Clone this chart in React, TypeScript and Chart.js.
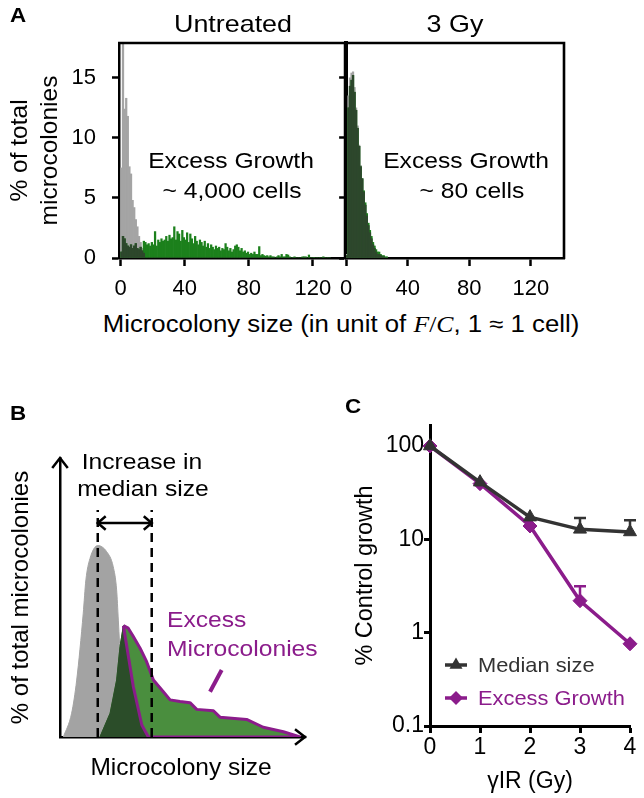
import React, { useEffect, useRef } from 'react';
import { Chart, registerables } from 'chart.js';

Chart.register(...registerables);

const FONT = "'Liberation Sans', Arial, Helvetica, sans-serif";
Chart.defaults.font.family = FONT;
Chart.defaults.color = '#000';

const GRAY_A = '#a4a4a4';
const GREEN_A = '#1c801c';
const DARK_A = '#2d472c';
const GRAY_B = '#a3a3a3';
const GREEN_B = '#4a8e3e';
const DARK_B = '#2b4d29';
const PURPLE = '#8b1c8b';
const INK = '#333333';
const STRETCH = 1.12;

// ---------------- Panel A: histograms (1-unit bins starting at 0) ----------------
const histXTicks = [0, 40, 80, 120];
const histYTicks = [0, 5, 10, 15];

const untreatedGray = [7.5, 18.5, 12.4, 13.3, 11.8, 7.6, 7.0, 4.8, 4.2, 3.2, 2.6, 1.8, 1.3, 0.8, 0.4];

const untreatedGreen = [
  0.5, 1.8, 1.6, 1.2, 1.0, 0.9, 1.1, 0.8, 1.0, 1.2,
  0.8, 0.7, 0.9, 0.6, 1.4, 1.3, 1.1, 1.2, 1.0, 1.3,
  1.1, 2.2, 1.0, 1.5, 1.3, 1.6, 1.4, 1.5, 1.8, 1.4,
  1.9, 1.6, 1.7, 2.6, 1.5, 2.2, 2.0, 1.4, 2.3, 1.7,
  1.5, 2.1, 1.3, 2.0, 1.6, 1.2, 1.8, 1.4, 1.1, 1.5,
  1.3, 1.0, 1.4, 0.9, 1.2, 0.8, 1.1, 0.9, 0.7, 1.0,
  0.8, 0.9, 0.6, 0.8, 0.7, 1.2, 0.9, 0.6, 0.8, 0.5,
  0.7, 1.0, 1.1, 0.9, 0.6, 0.8, 0.5, 0.6, 0.4, 0.5,
  0.3, 0.4, 0.3, 0.5, 0.3, 0.3, 0.95, 0.2, 0.3, 0.2,
  0.15, 0.2, 0.1, 0.2, 0.1, 0.1, 0, 0.1, 0.2, 0.1,
  0.3, 0.1, 0.1, 0.3, 0.25, 0.1, 0, 0.05, 0.1, 0,
  0, 0, 0, 0.1, 0.1, 0.1, 0, 0.25, 0, 0,
  0.05, 0, 0, 0, 0, 0, 0.1, 0, 0, 0, 0,
];

const gy3Gray = [0.3, 13.5, 15.0, 15.4, 15.5, 14.2, 12.5, 11.0, 9.4, 7.7, 6.6, 5.5, 4.4, 3.5, 2.7, 2.1, 1.6, 1.1, 0.8, 0.5, 0.3, 0.3, 0.2, 0.1, 0.1, 0, 0];
const gy3Green = [0.2, 12.5, 14.3, 14.8, 15.2, 13.8, 12.3, 10.8, 9.3, 7.6, 6.6, 5.6, 4.6, 3.7, 2.9, 2.3, 1.8, 1.3, 1.0, 0.7, 0.5, 0.5, 0.3, 0.2, 0.2, 0.1, 0.1];

// ---------------- Panel B: schematic distributions (arbitrary units 0-100) ----------------
const ctrlX = [1.4, 4.8, 6.9, 9.6, 10.7, 12.4, 15.6, 19.3, 22.0, 23.4, 24.1, 25.1, 25.9, 27.6, 30.3, 33.0];
const ctrlY = [0, 8.5, 20.4, 44.3, 56.3, 64.0, 68.6, 66.4, 61.0, 52.7, 41.9, 25.2, 13.3, 4.9, 0.7, 0];

const irrLeftX = [16.5, 20.7, 23.4, 24.8, 26.2];
const irrLeftY = [0, 8.5, 20.4, 32.4, 39.9];
const irrRightX = [28.2, 30.3, 33.1, 35.8, 38.6, 42.7, 45.5, 49.6, 53.7, 56.5, 63.4, 66.1, 77.1, 84.0, 92.3, 99.2];
const irrRightY = [39.0, 36.0, 31.8, 27.0, 20.4, 16.2, 13.3, 12.7, 12.3, 9.9, 9.4, 7.1, 6.3, 3.5, 1.9, 0];
const excessEdgeX = [26.2, 30.3, 33.8, 36.5];
const excessEdgeY = [39.9, 18.0, 4.3, 0];

const medianCtrl = 15.6;
const medianIrr = 37.9;
const medianLineTop = 81.4;
const shiftArrowY = 76.7;
const pointerX = [62.0, 66.8];
const pointerY = [16.2, 24.0];

// ---------------- Panel C: dose response ----------------
const doses = [0, 1, 2, 3, 4];
const medianSize = [100, 41, 17.3, 12.8, 12];
const medianErr = [0, 0, 0, 4.1, 4];
const excessGrowth = [100, 39.5, 13.9, 2.2, 0.76];
const excessErr = [0, 0, 0, 0.95, 0];
const logTicks = [0.1, 1, 10, 100];

// ---------------- helpers ----------------
const xy = (xs: number[], ys: number[]) => xs.map((x, i) => ({ x, y: ys[i] }));
const bins = (arr: number[]) => arr.map((v, i) => ({ x: i + 0.5, y: v }));

const base = {
  animation: false as const,
  responsive: false,
  devicePixelRatio: 1,
  events: [] as any[],
};

const framePlugin = {
  id: 'frame',
  afterDraw(chart: any, _a: any, opts: any) {
    if (!opts || !opts.width) return;
    const { ctx, chartArea: a } = chart;
    ctx.save();
    ctx.strokeStyle = '#000';
    ctx.lineWidth = opts.width;
    ctx.beginPath();
    ctx.moveTo(a.left - 1, a.top);
    ctx.lineTo(a.right, a.top);
    ctx.lineTo(a.right, a.bottom + 1);
    ctx.stroke();
    ctx.restore();
  },
};

function histConfig(gray: number[], green: number[], o: any) {
  const overlap = green.map((g, i) => Math.min(g, gray[i] ?? 0));
  const common = { barPercentage: 1, categoryPercentage: 1, borderWidth: 0, grouped: false };
  return {
    type: 'bar',
    data: {
      datasets: [
        { ...common, data: bins(overlap), backgroundColor: DARK_A, order: 0 },
        { ...common, data: bins(green), backgroundColor: GREEN_A, order: 1 },
        { ...common, data: bins(gray), backgroundColor: GRAY_A, order: 2 },
      ],
    },
    plugins: [framePlugin],
    options: {
      ...base,
      layout: { padding: { top: 43, right: o.padRight, left: 0, bottom: 0 } },
      plugins: { legend: { display: false }, tooltip: { enabled: false }, frame: { width: o.frame } },
      scales: {
        x: {
          type: 'linear',
          min: o.xMin,
          max: o.xMax,
          offset: false,
          afterBuildTicks: (s: any) => { s.ticks = histXTicks.map((v) => ({ value: v })); },
          afterFit: (s: any) => { s.height = 42; },
          grid: { display: true, offset: false, drawOnChartArea: false, drawTicks: true, tickLength: 8, tickWidth: 2.5, tickColor: '#000' },
          border: { display: true, color: '#000', width: 2.5 },
          ticks: { font: { size: 22 }, color: '#000', padding: 10, maxRotation: 0, autoSkip: false },
        },
        y: {
          type: 'linear',
          min: 0,
          max: 17.9,
          afterBuildTicks: (s: any) => { s.ticks = histYTicks.map((v) => ({ value: v })); },
          afterFit: (s: any) => { s.width = o.yWidth; },
          grid: { display: true, drawOnChartArea: false, drawTicks: true, tickLength: 7, tickWidth: 2.5, tickColor: '#000' },
          border: { display: true, color: '#000', width: o.yBorder },
          ticks: { display: o.yLabels, font: { size: 22 }, color: '#000', padding: 16 },
          title: o.yLabels
            ? { display: true, text: ['% of total', 'microcolonies'], font: { size: 24.5 }, color: '#000', padding: { top: 6, bottom: 0 } }
            : { display: false },
        },
      },
    },
  };
}

const makeUntreated = () =>
  histConfig(untreatedGray, untreatedGreen, { xMin: -1, xMax: 140, padRight: 5, yWidth: 119, yBorder: 2.5, yLabels: true, frame: 2.5 });
const makeGy3 = () =>
  histConfig(gy3Gray, gy3Green, { xMin: 0, xMax: 141.5, padRight: 66, yWidth: 16, yBorder: 4, yLabels: false, frame: 2.6 });

function chevron(ctx: any, x: number, y: number, dx: number, dy: number, len: number, half: number) {
  const bx = x - dx * len;
  const by = y - dy * len;
  const px = -dy;
  const py = dx;
  ctx.beginPath();
  ctx.moveTo(bx + px * half, by + py * half);
  ctx.lineTo(x, y);
  ctx.lineTo(bx - px * half, by - py * half);
  ctx.stroke();
}

const arrowsPlugin = {
  id: 'arrowsB',
  afterDatasetsDraw(chart: any) {
    const { ctx, chartArea: a } = chart;
    ctx.save();
    ctx.strokeStyle = '#000';
    ctx.lineWidth = 2.5;
    ctx.lineCap = 'square';
    ctx.lineJoin = 'miter';
    ctx.beginPath();
    ctx.moveTo(a.right, a.bottom);
    ctx.lineTo(a.right + 3, a.bottom);
    ctx.stroke();
    chevron(ctx, a.left, a.top, 0, -1, 9, 7);
    chevron(ctx, a.right + 3, a.bottom, 1, 0, 9, 7);
    chart.data.datasets.forEach((ds: any, i: number) => {
      if (!ds.arrowEnds) return;
      const pts = chart.getDatasetMeta(i).data;
      const p0 = pts[0];
      const p1 = pts[pts.length - 1];
      chevron(ctx, p0.x, p0.y, -1, 0, 7, 6);
      chevron(ctx, p1.x, p1.y, 1, 0, 7, 6);
    });
    ctx.restore();
  },
};

const makeSchematic = () => {
  const greenAll = xy([...irrLeftX, ...irrRightX], [...irrLeftY, ...irrRightY]);
  const dark = xy([...irrLeftX, ...excessEdgeX.slice(1)], [...irrLeftY, ...excessEdgeY.slice(1)]);
  const outline = xy(
    [...excessEdgeX, ...[...irrRightX].reverse(), irrLeftX[irrLeftX.length - 1]],
    [...excessEdgeY, ...[...irrRightY].reverse(), irrLeftY[irrLeftY.length - 1]]
  );
  const line = { pointRadius: 0, fill: false, tension: 0 };
  return {
    type: 'line',
    data: {
      datasets: [
        { ...line, data: xy(ctrlX, ctrlY), fill: 'origin', backgroundColor: GRAY_B, borderColor: GRAY_B, borderWidth: 1, cubicInterpolationMode: 'monotone', order: 7 },
        { ...line, data: greenAll, fill: 'origin', backgroundColor: GREEN_B, borderColor: GREEN_B, borderWidth: 1, order: 6 },
        { ...line, data: dark, fill: 'origin', backgroundColor: DARK_B, borderColor: DARK_B, borderWidth: 1, order: 5 },
        { ...line, data: xy([medianCtrl, medianCtrl], [0, medianLineTop]), borderColor: '#000', borderWidth: 2.5, borderDash: [9, 6], order: 3 },
        { ...line, data: xy([medianIrr, medianIrr], [0, medianLineTop]), borderColor: '#000', borderWidth: 2.5, borderDash: [9, 6], order: 3 },
        { ...line, data: outline, borderColor: PURPLE, borderWidth: 3, borderJoinStyle: 'round', order: 4 },
        { ...line, data: xy([medianCtrl, medianIrr], [shiftArrowY, shiftArrowY]), borderColor: '#000', borderWidth: 2.5, arrowEnds: true, order: 1 },
        { ...line, data: xy(pointerX, pointerY), borderColor: PURPLE, borderWidth: 4, order: 0 },
      ],
    },
    plugins: [arrowsPlugin],
    options: {
      ...base,
      layout: { padding: { top: 78, right: 28, left: 0, bottom: 0 } },
      plugins: { legend: { display: false }, tooltip: { enabled: false } },
      scales: {
        x: {
          type: 'linear', min: 0, max: 100,
          afterFit: (s: any) => { s.height = 61; },
          ticks: { display: false }, grid: { display: false },
          border: { display: true, color: '#000', width: 2.5 },
          title: { display: true, text: 'Microcolony size', font: { size: 24.5 }, color: '#000', padding: { top: 0, bottom: 15 } },
        },
        y: {
          type: 'linear', min: 0, max: 100,
          afterFit: (s: any) => { s.width = 60; },
          ticks: { display: false }, grid: { display: false },
          border: { display: true, color: '#000', width: 2.5 },
          title: { display: true, text: '% of total microcolonies', font: { size: 24 }, color: '#000', padding: { top: 7, bottom: 0 } },
        },
      },
    },
  };
};

const errorBarsPlugin = {
  id: 'errorBars',
  afterDatasetsDraw(chart: any) {
    const { ctx } = chart;
    const y = chart.scales.y;
    chart.data.datasets.forEach((ds: any, i: number) => {
      const err = ds.errPlus;
      if (!err) return;
      const meta = chart.getDatasetMeta(i);
      ctx.save();
      ctx.strokeStyle = ds.borderColor;
      ctx.lineWidth = 2.5;
      meta.data.forEach((pt: any, j: number) => {
        if (!err[j]) return;
        const top = y.getPixelForValue(ds.data[j].y + err[j]);
        ctx.beginPath();
        ctx.moveTo(pt.x, pt.y);
        ctx.lineTo(pt.x, top);
        ctx.moveTo(pt.x - 6, top);
        ctx.lineTo(pt.x + 6, top);
        ctx.stroke();
      });
      ctx.restore();
    });
  },
};

const legendPlugin = {
  id: 'legendC',
  afterDraw(chart: any) {
    const { ctx, chartArea: a } = chart;
    chart.data.datasets.forEach((ds: any, i: number) => {
      ctx.save();
      const y = a.bottom - 61 + i * 33;
      const x0 = a.left + 15;
      const x1 = a.left + 37;
      const cx = (x0 + x1) / 2;
      ctx.strokeStyle = ds.borderColor;
      ctx.fillStyle = ds.borderColor;
      ctx.lineWidth = 3.5;
      ctx.beginPath();
      ctx.moveTo(x0, y);
      ctx.lineTo(x1, y);
      ctx.stroke();
      const r = ds.pointRadius;
      ctx.beginPath();
      if (ds.pointStyle === 'triangle') {
        for (let k = 0; k < 3; k++) {
          const ang = -Math.PI / 2 + (k * 2 * Math.PI) / 3;
          const px = cx + Math.cos(ang) * r;
          const py = y + Math.sin(ang) * r;
          if (k === 0) ctx.moveTo(px, py); else ctx.lineTo(px, py);
        }
      } else {
        ctx.moveTo(cx - r, y);
        ctx.lineTo(cx, y - r);
        ctx.lineTo(cx + r, y);
        ctx.lineTo(cx, y + r);
      }
      ctx.closePath();
      ctx.fill();
      ctx.font = `21px ${FONT}`;
      ctx.textBaseline = 'middle';
      ctx.textAlign = 'left';
      ctx.translate(a.left + 48, y + 1);
      ctx.scale(1.04, 1);
      ctx.fillText(ds.label, 0, 0);
      ctx.restore();
    });
  },
};

const makeDose = () => ({
  type: 'line',
  data: {
    datasets: [
      { label: 'Median size', data: xy(doses, medianSize), errPlus: medianErr, borderColor: INK, backgroundColor: INK, borderWidth: 3.5, pointStyle: 'triangle', pointRadius: 7.5, pointBorderWidth: 1, clip: false, tension: 0 },
      { label: 'Excess Growth', data: xy(doses, excessGrowth), errPlus: excessErr, borderColor: PURPLE, backgroundColor: PURPLE, borderWidth: 3.5, pointStyle: 'rectRot', pointRadius: 7, pointBorderWidth: 1, clip: false, tension: 0 },
    ],
  },
  plugins: [errorBarsPlugin, legendPlugin],
  options: {
    ...base,
    layout: { padding: { top: 45, right: 14, left: 0, bottom: 0 } },
    plugins: { legend: { display: false }, tooltip: { enabled: false } },
    scales: {
      x: {
        type: 'linear', min: 0, max: 4,
        afterBuildTicks: (s: any) => { s.ticks = doses.map((v) => ({ value: v })); },
        afterFit: (s: any) => { s.height = 72; },
        grid: { display: true, drawOnChartArea: false, drawTicks: true, tickLength: 7, tickWidth: 3, tickColor: '#000' },
        border: { display: true, color: '#000', width: 3 },
        ticks: { font: { size: 23 }, color: '#000', padding: 1, maxRotation: 0, autoSkip: false },
        title: { display: true, text: 'γIR (Gy)', font: { size: 23 }, color: '#000', padding: { top: 0, bottom: 3 } },
      },
      y: {
        type: 'logarithmic', min: 0.1, max: 168,
        afterBuildTicks: (s: any) => { s.ticks = logTicks.map((v) => ({ value: v })); },
        afterFit: (s: any) => { s.width = 100; },
        grid: { display: true, drawOnChartArea: false, drawTicks: true, tickLength: 6, tickWidth: 3, tickColor: '#000' },
        border: { display: true, color: '#000', width: 3 },
        ticks: { font: { size: 23 }, color: '#000', padding: 0, callback: (v: any) => String(v) },
        title: { display: true, text: '% Control growth', font: { size: 23.5 }, color: '#000', padding: { top: 21, bottom: 0 } },
      },
    },
  },
});

function ChartBox({ make, left, top, width, height }: any) {
  const ref = useRef<HTMLCanvasElement>(null);
  useEffect(() => {
    const chart = new Chart(ref.current as HTMLCanvasElement, make());
    return () => chart.destroy();
  }, []);
  return <canvas ref={ref} width={width} height={height} style={{ position: 'absolute', left, top, width, height }} />;
}

function Txt({ x, base: b, size, anchor = 'middle', bold = false, color = '#000', children }: any) {
  const style: any = {
    position: 'absolute',
    top: b - 0.847 * size,
    left: x,
    fontSize: size,
    lineHeight: `${size}px`,
    whiteSpace: 'nowrap',
    fontWeight: bold ? 'bold' : 'normal',
    color,
    fontFamily: FONT,
  };
  if (anchor === 'middle') {
    style.transform = `translateX(-50%) scaleX(${STRETCH})`;
  } else {
    style.transformOrigin = 'left center';
    style.transform = `scaleX(${STRETCH})`;
  }
  return <div style={style}>{children}</div>;
}

const serifItalic: any = { fontFamily: "'Liberation Serif', 'DejaVu Serif', serif", fontStyle: 'italic' };

export default function App() {
  return (
    <div style={{ position: 'absolute', left: 0, top: 0, width: 644, height: 798, background: '#fff', overflow: 'hidden' }}>
      <ChartBox make={makeUntreated} left={0} top={0} width={350} height={300} />
      <ChartBox make={makeGy3} left={330} top={0} width={300} height={300} />
      <ChartBox make={makeSchematic} left={0} top={380} width={330} height={418} />
      <ChartBox make={makeDose} left={330} top={380} width={314} height={418} />

      <Txt x={10} base={22} size={20} anchor="start" bold>A</Txt>
      <Txt x={233} base={32} size={24}>Untreated</Txt>
      <Txt x={455} base={32} size={24}>3 Gy</Txt>
      <Txt x={231} base={169} size={22}>Excess Growth</Txt>
      <Txt x={232} base={199} size={22}>~ 4,000 cells</Txt>
      <Txt x={466} base={169} size={22}>Excess Growth</Txt>
      <Txt x={472} base={199} size={22}>~ 80 cells</Txt>
      <Txt x={341} base={332} size={23}>
        Microcolony size (in unit of <span style={serifItalic}>F</span>
        <span style={{ fontFamily: "'Liberation Serif', serif" }}>/</span>
        <span style={serifItalic}>C</span>, 1 ≈ 1 cell)
      </Txt>

      <Txt x={10} base={420} size={20} anchor="start" bold>B</Txt>
      <Txt x={142} base={470} size={22}>Increase in</Txt>
      <Txt x={143} base={497} size={22}>median size</Txt>
      <Txt x={167} base={628} size={22} anchor="start" color={PURPLE}>Excess</Txt>
      <Txt x={167} base={657} size={22} anchor="start" color={PURPLE}>Microcolonies</Txt>

      <Txt x={345} base={413} size={20} anchor="start" bold>C</Txt>
    </div>
  );
}
